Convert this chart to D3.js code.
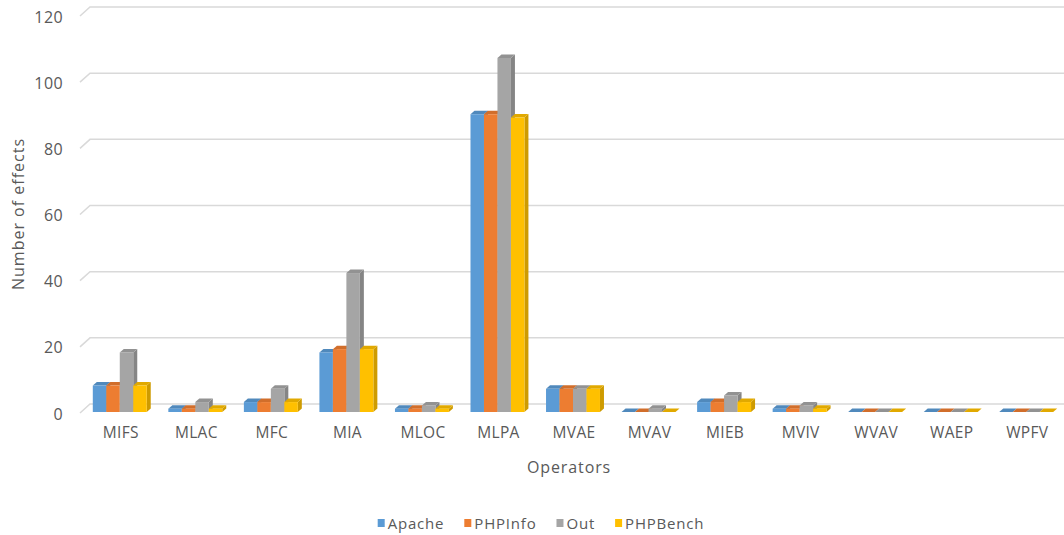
<!DOCTYPE html>
<html>
<head>
<meta charset="utf-8">
<script src="https://cdn.jsdelivr.net/npm/d3@7"></script>
<style>
  html, body { margin: 0; padding: 0; background: #ffffff; }
  svg { display: block; font-family: "Open Sans", "Noto Sans", sans-serif; }
</style>
</head>
<body>
<svg id="chart" width="1064" height="535"></svg>
<script>
// Operators on the x axis
const categories = ["MIFS", "MLAC", "MFC", "MIA", "MLOC", "MLPA", "MVAE", "MVAV", "MIEB", "MVIV", "WVAV", "WAEP", "WPFV"];
// Number of effects per operator, one array per series
const apache   = [8, 1, 3, 18, 1, 90, 7, 0, 3, 1, 0, 0, 0];
const phpInfo  = [8, 1, 3, 19, 1, 90, 7, 0, 3, 1, 0, 0, 0];
const out      = [18, 3, 7, 42, 2, 107, 7, 1, 5, 2, 0, 0, 0];
const phpBench = [8, 1, 3, 19, 1, 89, 7, 0, 3, 1, 0, 0, 0];
const seriesNames = ["Apache", "PHPInfo", "Out", "PHPBench"];
const yTicks = [0, 20, 40, 60, 80, 100, 120];

const seriesValues = [apache, phpInfo, out, phpBench];
const colors = ["#5B9BD5", "#ED7D31", "#A5A5A5", "#FFC000"];
const textColor = "#595959";
const gridColor = "#D9D9D9";

const svg = d3.select("#chart");

// Plot geometry
const x0 = d3.scaleBand().domain(categories).range([82, 1064])
  .paddingInner(0.286).paddingOuter(0.143);
const x1 = d3.scaleBand().domain(seriesNames).range([0, x0.bandwidth()]);
const y = d3.scaleLinear().domain([0, 120]).range([412, 15]);

// Depth of the back wall and of each column
const wallDx = 10, wallDy = -9;
const barDx = 4, barDy = -3.5;

// Back-wall gridlines with the short floor diagonal at the left
const grid = svg.append("g");
yTicks.forEach(t => {
  const yy = y(t) + 1;
  grid.append("path")
    .attr("d", `M80,${yy} L${80 + wallDx},${yy + wallDy} L1064,${yy + wallDy}`)
    .attr("fill", "none")
    .attr("stroke", gridColor)
    .attr("stroke-width", 1.5);
});

// Y axis tick labels
const yAxis = d3.axisLeft(y).tickValues(yTicks).tickSize(0).tickPadding(0);
const yg = svg.append("g").attr("transform", "translate(63,2)").call(yAxis);
yg.select(".domain").remove();
yg.selectAll("text")
  .attr("fill", textColor)
  .style("font-size", "16px")
  .style("letter-spacing", "0.4px")
  .style("font-family", "'Open Sans', sans-serif");

// 3D columns: side, top, then front face, drawn left to right
const shade = (c, k) => d3.color(c).darker(k).formatHex();
const bars = svg.append("g");
categories.forEach((cat, ci) => {
  seriesNames.forEach((s, si) => {
    const v = seriesValues[si][ci];
    const bx = x0(cat) + x1(s);
    const bw = x1.bandwidth();
    const top = y(v), base = y(0);
    const col = colors[si];
    bars.append("path")
      .attr("d", `M${bx + bw},${top} L${bx + bw + barDx},${top + barDy} L${bx + bw + barDx},${base + barDy} L${bx + bw},${base} Z`)
      .attr("fill", shade(col, 0.6));
    bars.append("path")
      .attr("d", `M${bx},${top} L${bx + barDx},${top + barDy} L${bx + bw + barDx},${top + barDy} L${bx + bw},${top} Z`)
      .attr("fill", shade(col, 0.35));
    bars.append("rect")
      .attr("x", bx).attr("y", top)
      .attr("width", bw).attr("height", base - top)
      .attr("fill", col);
  });
});

// Category axis labels
const xAxis = d3.axisBottom(x0).tickSize(0).tickPadding(0);
const xg = svg.append("g").attr("transform", "translate(1,427)").call(xAxis);
xg.select(".domain").remove();
xg.selectAll("text")
  .attr("fill", textColor)
  .style("font-size", "15.5px")
  .style("letter-spacing", "0.3px")
  .style("font-family", "'Open Sans', sans-serif");

// Axis titles
svg.append("text")
  .attr("transform", "translate(24,214) rotate(-90)")
  .attr("text-anchor", "middle")
  .attr("fill", textColor)
  .style("font-size", "16px")
  .style("letter-spacing", "1px")
  .text("Number of effects");

svg.append("text")
  .attr("x", 569).attr("y", 473)
  .attr("text-anchor", "middle")
  .attr("fill", textColor)
  .style("font-size", "16px")
  .style("letter-spacing", "0.9px")
  .text("Operators");

// Legend, centred under the plot
const legend = svg.append("g").attr("transform", "translate(0,523)");
let lx = 0;
const items = [];
seriesNames.forEach((name, i) => {
  const g = legend.append("g");
  g.append("rect").attr("x", 0).attr("y", -4).attr("width", 7).attr("height", 8).attr("fill", colors[i]);
  const t = g.append("text").attr("x", 10).attr("y", 5.5)
    .attr("fill", textColor).style("font-size", "15px")
    .style("letter-spacing", "0.8px").text(name);
  const w = 10 + t.node().getComputedTextLength();
  items.push({ g, x: lx });
  lx += w + 20;
});
const total = lx - 20;
const startX = 541 - total / 2;
items.forEach(it => it.g.attr("transform", `translate(${startX + it.x},0)`));
</script>
</body>
</html>
